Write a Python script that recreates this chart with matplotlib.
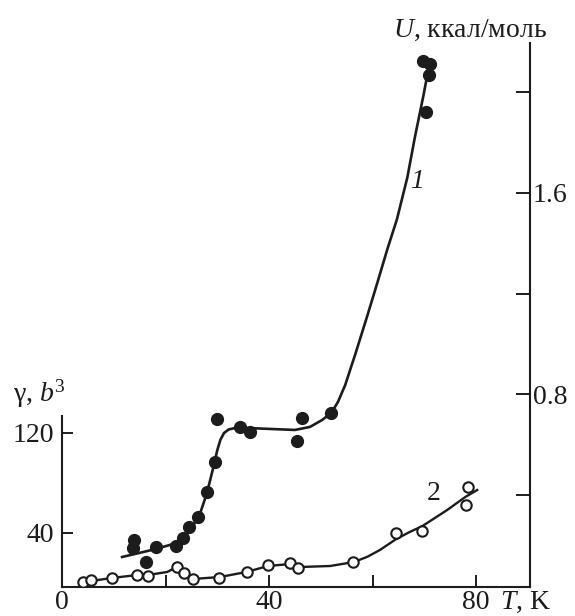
import matplotlib
matplotlib.use("Agg")
import matplotlib.pyplot as plt

plt.rcParams['font.family'] = ['Liberation Serif', 'DejaVu Serif']
plt.rcParams['mathtext.fontset'] = 'custom'
plt.rcParams['mathtext.rm'] = 'Liberation Serif'
plt.rcParams['mathtext.it'] = 'Liberation Serif:italic'

ink = '#1c1c1c'

# curve 1: U, kcal/mol (right axis), filled points
t1_pts = [13.9, 13.7, 16.2, 18.2, 22.0, 23.4, 24.5, 26.3, 28.0, 29.6, 30.0,
          34.4, 36.3, 45.4, 46.4, 52.0, 70.3, 70.9, 71.1, 69.8]
u1_pts = [0.222, 0.190, 0.135, 0.194, 0.198, 0.230, 0.274, 0.313, 0.413, 0.532, 0.702,
          0.671, 0.651, 0.615, 0.706, 0.726, 1.921, 2.067, 2.111, 2.123]
# drawn fit line for curve 1
t1_fit = [11.6, 18.2, 22.0, 24.5, 26.5, 28.0, 29.2, 30.0, 30.6, 31.3, 32.2, 33.5, 35.4,
          40.2, 45.0, 47.9, 50.2, 52.0, 53.3, 54.7, 55.7, 56.6, 58.9, 60.9, 62.8, 64.7,
          66.7, 68.2, 69.8, 70.9]
u1_fit = [0.155, 0.187, 0.210, 0.254, 0.317, 0.409, 0.508, 0.579, 0.620, 0.647, 0.661, 0.667, 0.667,
          0.663, 0.659, 0.671, 0.698, 0.726, 0.770, 0.837, 0.900, 0.956, 1.107, 1.242, 1.373, 1.495,
          1.660, 1.824, 1.984, 2.103]

# curve 2: gamma, b^3 (left axis), open points
t2_pts = [4.1, 5.6, 9.6, 14.5, 16.6, 22.2, 23.5, 25.3, 30.4, 35.7, 39.8, 44.1, 45.6,
          56.3, 64.6, 69.6, 78.1, 78.5]
g2_pts = [0.8, 2.4, 4.0, 6.8, 6.0, 12.8, 8.0, 3.2, 4.0, 8.8, 14.4, 16.0, 12.0,
          16.8, 40.0, 41.6, 62.4, 76.8]
t2_fit = [3.5, 5.6, 9.6, 14.5, 16.6, 20.3, 22.2, 23.8, 25.3, 30.5, 35.6, 39.8, 44.1,
          46.0, 51.8, 56.4, 59.0, 61.4, 64.5, 67.0, 69.6, 74.4, 77.9, 80.2]
g2_fit = [0.0, 1.6, 4.0, 6.4, 6.4, 8.8, 12.8, 8.0, 3.2, 4.8, 8.8, 13.6, 15.2,
          12.8, 13.6, 16.8, 21.0, 26.4, 35.0, 40.5, 45.5, 58.4, 68.8, 74.4]

x_major = [0, 40, 80]
x_minor = [20, 60]
g_ticks = [40, 120]
u_ticks = [0.4, 0.8, 1.2, 1.6, 2.0]
u_labels = ['', '0.8', '', '1.6', '']

fig = plt.figure(figsize=(5.75, 6.16), dpi=100)
ax = fig.add_axes([62 / 575, 29 / 616, 468 / 575, 544 / 616])
ax2 = ax.twinx()

ax.plot(t2_fit, g2_fit, color=ink, lw=1.7, zorder=2)
ax.plot(t2_pts, g2_pts, 'o', ms=7.5, mfc='white', mec=ink, mew=1.5, zorder=3)
ax2.plot(t1_fit, u1_fit, color=ink, lw=1.9, zorder=2)
ax2.plot(t1_pts, u1_pts, 'o', ms=8.5, color=ink, zorder=3)

ax.set_xlim(0, 90.4)
ax.set_ylim(-3.2, 432)
ax2.set_ylim(0.036, 2.194)

for s in ['top', 'right']:
    ax.spines[s].set_visible(False)
for s in ['top', 'left', 'bottom']:
    ax2.spines[s].set_visible(False)
ax.spines['left'].set_bounds(-3.2, 134)
for sp in [ax.spines['left'], ax.spines['bottom'], ax2.spines['right']]:
    sp.set_linewidth(1.5)
    sp.set_color(ink)

ax.set_xticks(x_major)
ax.set_xticks(x_minor, minor=True)
ax.set_yticks(g_ticks)
ax2.set_yticks(u_ticks)
ax2.set_yticklabels(u_labels)

ax.tick_params(axis='x', which='both', direction='in', length=9, width=1.4,
               color=ink, labelsize=20, pad=2, labelcolor=ink)
ax.tick_params(axis='y', direction='in', length=8, width=1.4, color=ink,
               labelsize=20, pad=6, labelcolor=ink)
ax2.tick_params(axis='y', direction='in', length=10, width=1.4, color=ink,
                labelsize=20, pad=2, labelcolor=ink)

ax2.text(68.6, 1.643, '1', fontsize=20, style='italic', color=ink, ha='center', va='center')
ax.text(71.7, 72, '2', fontsize=20, color=ink, ha='center', va='center')

fig.text(13 / 575, (616 - 402) / 616, r'γ, $b^3$', fontsize=20, color=ink,
         ha='left', va='baseline')
fig.text(393 / 575, (616 - 37) / 616, r'$U$, ккал/моль', fontsize=20, color=ink,
         ha='left', va='baseline')
fig.text(500 / 575, (616 - 609) / 616, r'$T$, K', fontsize=20, color=ink,
         ha='left', va='baseline')

fig.savefig('out.png', dpi=100, facecolor='white')
